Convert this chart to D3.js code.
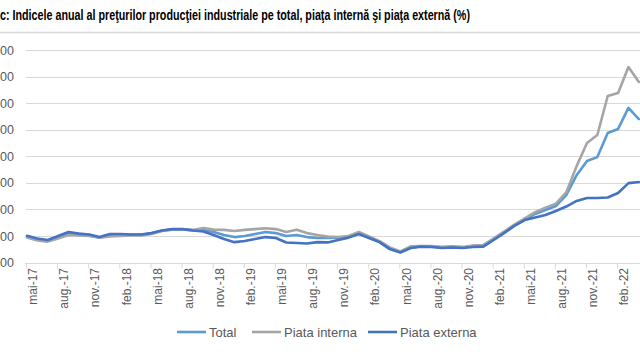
<!DOCTYPE html>
<html><head><meta charset="utf-8">
<script src="https://cdn.jsdelivr.net/npm/d3@7"></script>
<style>
body{margin:0;background:#fff;}
svg{display:block;}
text{font-family:"Liberation Sans Narrow","Liberation Sans",Arial,sans-serif;}
</style></head>
<body>
<svg id="c" width="640" height="360"></svg>
<script>
const months = ["mai-17","iun.-17","iul.-17","aug.-17","sep.-17","oct.-17","nov.-17","dec.-17",
"ian.-18","feb.-18","mar.-18","apr.-18","mai-18","iun.-18","iul.-18","aug.-18","sep.-18","oct.-18","nov.-18","dec.-18",
"ian.-19","feb.-19","mar.-19","apr.-19","mai-19","iun.-19","iul.-19","aug.-19","sep.-19","oct.-19","nov.-19","dec.-19",
"ian.-20","feb.-20","mar.-20","apr.-20","mai-20","iun.-20","iul.-20","aug.-20","sep.-20","oct.-20","nov.-20","dec.-20",
"ian.-21","feb.-21","mar.-21","apr.-21","mai-21","iun.-21","iul.-21","aug.-21","sep.-21","oct.-21","nov.-21","dec.-21",
"ian.-22","feb.-22","mar.-22","apr.-22"];

const total = [99.8,98.8,98.2,99.7,101.2,100.7,100.4,99.4,100.5,100.5,100.5,100.5,101.0,102.0,102.5,102.5,102.2,102.3,101.5,100.4,99.6,100.0,100.75,101.5,101.1,100.0,100.4,99.6,99.25,99.25,99.4,99.6,100.9,99.25,97.7,95.1,94.0,95.7,96.1,96.1,95.7,95.9,95.7,96.2,96.2,98.7,101.3,104.0,106.2,108.3,109.8,111.3,115.4,122.9,128.2,129.7,138.8,140.3,148.2,144.0];
const interna = [99.4,98.3,97.9,99.1,100.4,100.2,100.0,99.4,99.8,100.0,100.2,100.2,100.75,101.9,102.4,102.4,102.3,103.0,102.4,102.3,101.9,102.3,102.6,102.9,102.6,101.5,102.4,101.1,100.4,99.8,99.6,100.0,101.5,99.8,98.1,95.7,94.2,96.1,96.2,96.2,95.9,96.1,95.9,96.4,96.6,99.1,101.7,104.3,106.6,109.0,110.7,112.2,116.4,126.3,135.0,138.0,152.7,153.8,163.6,158.0];
const externa = [100.1,99.1,98.5,100.0,101.5,100.9,100.6,99.6,100.75,100.75,100.6,100.6,101.1,102.1,102.6,102.6,102.1,101.7,100.4,98.9,97.7,98.1,98.9,99.6,99.25,97.55,97.4,97.2,97.7,97.6,98.5,99.4,100.75,99.25,97.7,95.1,93.8,95.5,96.0,95.9,95.5,95.7,95.5,95.9,96.0,98.5,101.1,103.8,106.0,107.0,107.9,109.4,111.1,113.2,114.3,114.3,114.5,116.2,119.9,120.3];

const yTicks = [90,100,110,120,130,140,150,160,170];
const seriesNames = ["Total","Piata interna","Piata externa"];
const title = "c: Indicele anual al preţurilor producţiei industriale pe total, piaţa internă şi piaţa externă (%)";

const colors = ["#5b9bd5","#a5a5a5","#4472c4"];
const svg = d3.select("#c");
svg.append("rect").attr("width",640).attr("height",360).attr("fill","#fff");

const x = d3.scaleLinear().domain([0, months.length-1]).range([27, 27+10.37*(months.length-1)]);
const y = d3.scaleLinear().domain([90,170]).range([262.6, 50]);

// title
svg.append("text").attr("x",0).attr("y",20).text(title)
  .attr("font-size",15).attr("font-weight","bold").attr("fill","#000")
  .attr("textLength",470).attr("lengthAdjust","spacingAndGlyphs");
svg.append("line").attr("x1",0).attr("x2",640).attr("y1",32.5).attr("y2",32.5)
  .attr("stroke","#d9d9d9").attr("stroke-width",1.5);

// gridlines
const yAxis = d3.axisLeft(y).tickValues(yTicks).tickSize(0).tickPadding(0)
  .tickFormat(d => d3.format(".2f")(d));
const ga = svg.append("g").attr("transform","translate(0,0)");
ga.selectAll("line.grid").data(yTicks.slice(1)).join("line")
  .attr("x1",26).attr("x2",640).attr("y1",d=>Math.round(y(d))+0.5).attr("y2",d=>Math.round(y(d))+0.5)
  .attr("stroke","#d9d9d9").attr("stroke-width",1);
const gy = svg.append("g").attr("transform","translate(14,0)").call(yAxis);
gy.select(".domain").remove();
gy.selectAll("text").attr("fill","#595959").attr("font-size",12.5)
  .attr("font-family","'Liberation Sans',Arial,sans-serif");

// x axis
const tickIdx = d3.range(0, months.length, 3);
const xAxis = d3.axisBottom(x).tickValues(tickIdx).tickSize(5).tickFormat("");
const gx = svg.append("g").attr("transform",`translate(-1,${Math.round(y(90))+0.5})`).call(xAxis);
gx.select(".domain").attr("stroke","#d9d9d9").attr("d","M26,0H641");
gx.selectAll(".tick line").attr("stroke","#d9d9d9");
svg.append("g").selectAll("text").data(tickIdx).join("text")
  .attr("transform", i => `translate(${x(i)+6},268) rotate(-90)`)
  .attr("text-anchor","end").attr("dy","0.35em")
  .attr("font-size",12).attr("fill","#595959")
  .text(i => months[i]);

// lines
const data = [total, interna, externa];
const line = d3.line().x((d,i)=>x(i)).y(d=>y(d));
svg.append("g").selectAll("path").data(data).join("path")
  .attr("d", line).attr("fill","none")
  .attr("stroke",(d,i)=>colors[i]).attr("stroke-width",2.6)
  .attr("stroke-linejoin","round").attr("stroke-linecap","round");

// legend
const legX = [177, 252, 368];
const lg = svg.append("g");
seriesNames.forEach((n,i)=>{
  lg.append("line").attr("x1",legX[i]).attr("x2",legX[i]+29).attr("y1",332).attr("y2",332)
    .attr("stroke",colors[i]).attr("stroke-width",2.6);
  lg.append("text").attr("x",legX[i]+32).attr("y",332).attr("dy","0.35em")
    .attr("font-size",13).attr("fill","#595959").text(n);
});
</script>
</body></html>
